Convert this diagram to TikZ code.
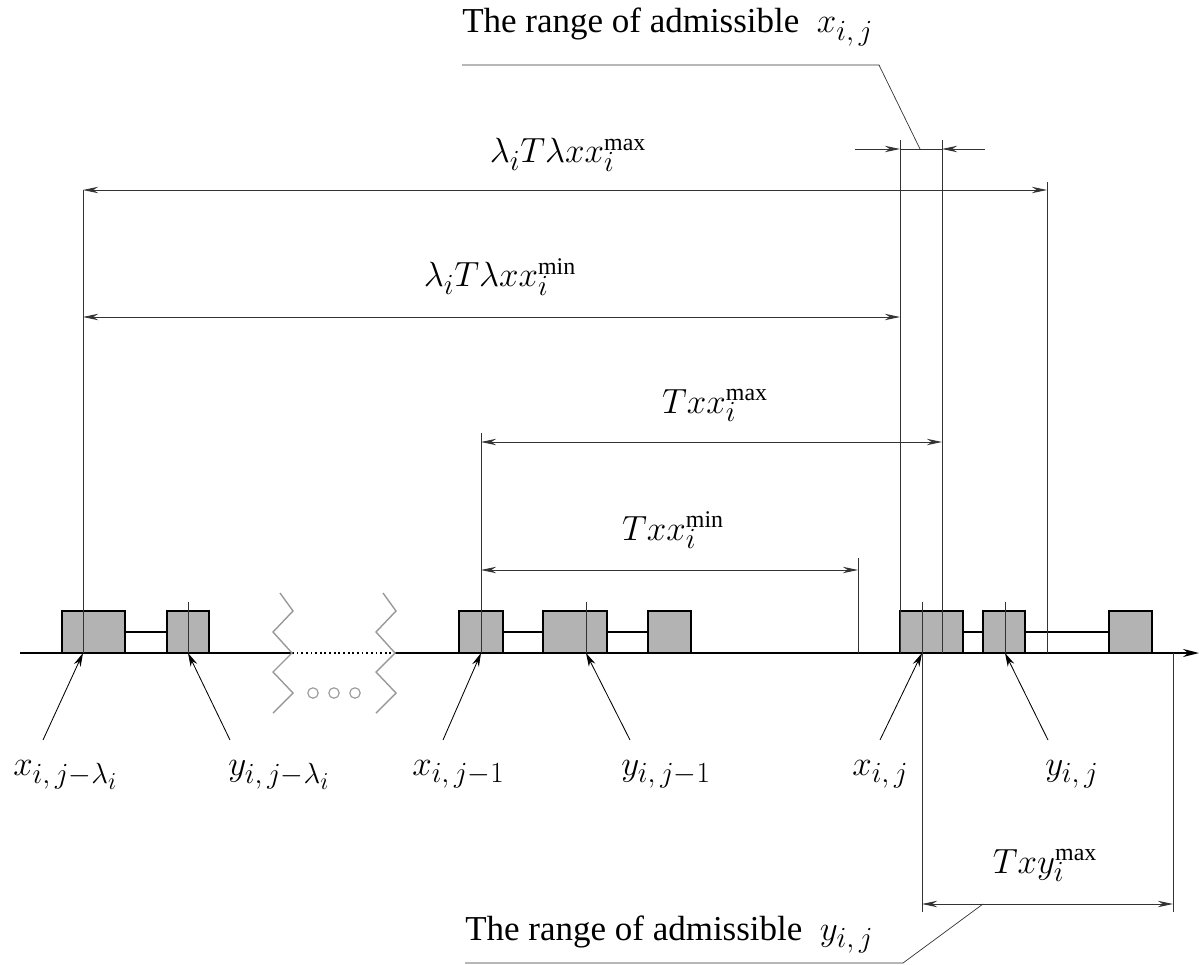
\documentclass[tikz,border=0pt]{standalone}
\usepackage{fontspec}
\setmainfont{Liberation Serif}
\usetikzlibrary{arrows.meta,positioning}
\definecolor{slotgray}{HTML}{B3B3B3}
\definecolor{ziggray}{HTML}{999999}
\newcommand{\supword}[1]{\mbox{\fontsize{17}{17}\rmfamily\upshape\selectfont #1}}

\begin{document}
\begin{tikzpicture}[x=0.025cm,y=-0.025cm,
    slot/.style={rectangle,draw,fill=slotgray,line width=0.9pt,inner sep=0pt,minimum height=1.05cm},
    link/.style={line width=1.2pt},
    guide/.style={line width=0.5pt,black!80},
    dim/.style={{Stealth[length=3.8mm,width=1.6mm]}-{Stealth[length=3.8mm,width=1.6mm]},line width=0.6pt,black!80},
    half/.style={-{Stealth[length=3.8mm,width=1.6mm]},line width=0.6pt,black!80},
    pick/.style={-{Stealth[length=3.4mm,width=1.8mm]},line width=0.6pt},
    lbl/.style={font=\Huge,inner sep=0pt},
    zig/.style={ziggray,line width=1pt},
]
\useasboundingbox (0,0) rectangle (1199,965);

% Time axis
\coordinate (a0) at (20,653);
\coordinate (z1) at (292,653);
\coordinate (z2) at (395,653);
\coordinate (a1) at (1199,653);
\draw[link] (a0) -- (z1);
\draw[line width=1.3pt,dotted] (z1) -- (z2);
\draw[link,-{Stealth[length=4mm,width=2mm]}] (z2) -- (a1);

% Break in the axis
\foreach \s in {0,103}
  \draw[zig,shift={(\s,0)}] (280,593) -- (293,611) -- (273,632) -- (292,653) -- (273,672) -- (293,693) -- (273,713);
\foreach \cx in {313,334,355}
  \draw[ziggray,line width=0.8pt] (\cx,693) circle[radius=1.3mm];

% Slots j-lambda_i
\node[slot,minimum width=1.575cm] (s1) at (93.5,632) {};
\node[slot,minimum width=1.05cm] (s2) at (188,632) {};
\draw[link] (s1) -- (s2);

% Slots j-1
\node[slot,minimum width=1.1cm] (s3) at (481,632) {};
\node[slot,minimum width=1.6cm] (s4) at (575,632) {};
\node[slot,minimum width=1.075cm] (s5) at (669.5,632) {};
\draw[link] (s3) -- (s4);
\draw[link] (s4) -- (s5);

% Slots j
\node[slot,minimum width=1.575cm] (s6) at (931.5,632) {};
\node[slot,minimum width=1.05cm] (s7) at (1004,632) {};
\node[slot,minimum width=1.075cm] (s8) at (1130.5,632) {};
\draw[link] (s6) -- (s7);
\draw[link] (s7) -- (s8);

% Extension lines
\coordinate (gA) at (83,190);
\coordinate (gB) at (188,602);
\coordinate (gC) at (481,433);
\coordinate (gD) at (586,602);
\coordinate (gE) at (858,558);
\coordinate (gF) at (900,140);
\coordinate (gG) at (922,602);
\coordinate (gH) at (942,140);
\coordinate (gI) at (1005,602);
\coordinate (gJ) at (1047,182);
\coordinate (gK) at (1173,912);
\draw[guide] (gA) -- (gA |- a0);
\draw[guide] (gB) -- (gB |- a0);
\draw[guide] (gC) -- (gC |- a0);
\draw[guide] (gD) -- (gD |- a0);
\draw[guide] (gE) -- (gE |- a0);
\draw[guide] (gF) -- (gF |- a0);
\draw[guide] (gG) -- (gG |- gK);
\draw[guide] (gH) -- (gH |- a0);
\draw[guide] (gI) -- (gI |- a0);
\draw[guide] (gJ) -- (gJ |- a0);
\draw[guide] (gK) -- (gK |- a0);

% Dimensions
\coordinate (lmaxR) at (1047,190);
\coordinate (lminL) at (83,317);
\coordinate (lminR) at (900,317);
\coordinate (tmaxL) at (481,442);
\coordinate (tmaxR) at (942,442);
\coordinate (tminL) at (481,570);
\coordinate (tminR) at (858,570);
\coordinate (tyL) at (922,904);
\coordinate (tyR) at (1173,904);
\draw[dim] (gA) -- (lmaxR);
\draw[dim] (lminL) -- (lminR);
\draw[dim] (tmaxL) -- (tmaxR);
\draw[dim] (tminL) -- (tminR);
\draw[dim] (tyL) -- (tyR);
\node[lbl,anchor=base] (lmaxlab) at (568,163) {$\lambda_i T\lambda x x_i^{\supword{max}}$};
\node[lbl,anchor=base] (lminlab) at (500,287) {$\lambda_i T\lambda x x_i^{\supword{min}}$};
\node[lbl,anchor=base] (tmaxlab) at (715,413) {$T x x_i^{\supword{max}}$};
\node[lbl,anchor=base] (tminlab) at (673,540) {$T x x_i^{\supword{min}}$};
\node[lbl,anchor=base] (tylab) at (1045,873) {$T x y_i^{\supword{max}}$};

% Admissible range of x_{i,j}
\coordinate (rxA) at (855,149);
\coordinate (rxB) at (900,149);
\coordinate (rxM) at (920,149);
\coordinate (rxC) at (942,149);
\coordinate (rxD) at (985,149);
\coordinate (rxK) at (879,65);
\draw[half] (rxA) -- (rxB);
\draw[half] (rxD) -- (rxC);
\draw[guide] (rxB) -- (rxC);
\node[lbl,anchor=base west] (rxtext) at (462,33) {The range of admissible\enspace $x_{i,\,j}$};
\draw[guide] (rxM) -- (rxK) -- (rxK -| rxtext.west);

% Admissible range of y_{i,j}
\coordinate (ryM) at (983,904);
\coordinate (ryK) at (903,963);
\node[lbl,anchor=base west] (rytext) at (465,940) {The range of admissible\enspace $y_{i,\,j}$};
\draw[guide] (ryM) -- (ryK) -- (ryK -| rytext.west);

% Event labels
\node[lbl,anchor=base west] (x1) at (13,775) {$x_{i,\,j-\lambda_i}$};
\node[lbl,anchor=base west] (y1) at (228,775) {$y_{i,\,j-\lambda_i}$};
\node[lbl,anchor=base west] (x2) at (412,775) {$x_{i,\,j-1}$};
\node[lbl,anchor=base west] (y2) at (621,775) {$y_{i,\,j-1}$};
\node[lbl,anchor=base west] (x3) at (852,775) {$x_{i,\,j}$};
\node[lbl,anchor=base west] (y3) at (1045,775) {$y_{i,\,j}$};
\coordinate (t1) at (43,740);
\coordinate (t2) at (230,740);
\coordinate (t3) at (443,740);
\coordinate (t4) at (630,740);
\coordinate (t5) at (880,740);
\coordinate (t6) at (1048,740);
\draw[pick] (t1) -- (gA |- a0);
\draw[pick] (t2) -- (gB |- a0);
\draw[pick] (t3) -- (gC |- a0);
\draw[pick] (t4) -- (gD |- a0);
\draw[pick] (t5) -- (gG |- a0);
\draw[pick] (t6) -- (gI |- a0);
\end{tikzpicture}
\end{document}
